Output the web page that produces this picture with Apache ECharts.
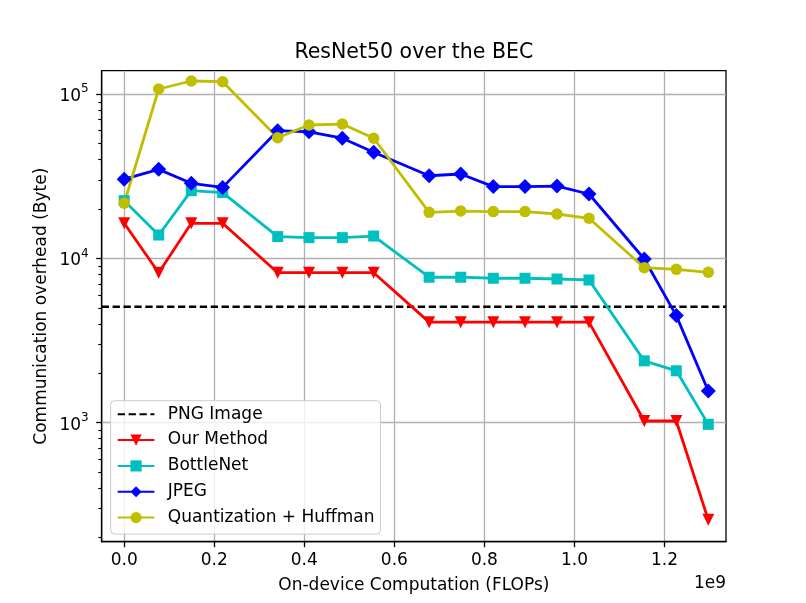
<!DOCTYPE html>
<html>
<head>
<meta charset="utf-8">
<script src="https://cdn.jsdelivr.net/npm/echarts@6.0.0/dist/echarts.min.js"></script>
<style>html,body{margin:0;padding:0;background:#fff}#c{width:806px;height:603px}</style>
</head>
<body>
<div id="c"></div>
<script>
// ---- data ----
var flops = [0.0, 0.0766e9, 0.149e9, 0.2186e9, 0.3409e9, 0.4104e9, 0.4844e9, 0.5541e9, 0.6772e9,
             0.7474e9, 0.8198e9, 0.8902e9, 0.9612e9, 1.0323e9, 1.1551e9, 1.2262e9, 1.2973e9];
var ourMethod = [16384, 8192, 16384, 16384, 8192, 8192, 8192, 8192, 4096, 4096, 4096, 4096, 4096, 4096, 1024, 1024, 256];
var bottleNet = [22500, 13900, 25900, 25200, 13600, 13400, 13400, 13700, 7690, 7690, 7580, 7580, 7500, 7400, 2380, 2070, 977];
var jpeg = [30400, 34900, 28700, 27100, 60000, 59100, 54000, 44400, 31900, 32700, 27400, 27400, 27600, 24700, 9930, 4490, 1560];
var quantHuffman = [21700, 107700, 120500, 119300, 54400, 65000, 65900, 54000, 19100, 19450, 19300, 19300, 18660, 17570, 8790, 8590, 8240];
var pngImage = 5090;
var xTicks = [0, 0.2e9, 0.4e9, 0.6e9, 0.8e9, 1.0e9, 1.2e9];
var yMajor = [1000, 10000, 100000];
var yMinor = [200, 300, 400, 500, 600, 700, 800, 900, 2000, 3000, 4000, 5000, 6000, 7000, 8000, 9000,
              20000, 30000, 40000, 50000, 60000, 70000, 80000, 90000];
var xMin = -0.05e9, xMax = 1.3366e9, yMin = 188.5, yMax = 139200;

function pairs(ys) { return flops.map(function (x, i) { return [x, ys[i]]; }); }

var FONT = 'DejaVu Sans';
var chart = echarts.init(document.getElementById('c'), null, { renderer: 'canvas' });
var triDown = 'path://M0,0 L2,0 L1,2 Z';

chart.setOption({
  animation: false,
  backgroundColor: '#fff',
  textStyle: { fontFamily: FONT },
  grid: { left: 101.7, right: 80, top: 70.7, bottom: 61.3, show: true, borderColor: '#000', borderWidth: 1.3, containLabel: false },
  xAxis: {
    type: 'value', min: xMin, max: xMax,
    axisLine: { show: true, onZero: false, lineStyle: { color: '#000', width: 1.3 } },
    axisTick: { show: true, length: 5.5, customValues: xTicks, lineStyle: { color: '#000', width: 1.3 } },
    axisLabel: { customValues: xTicks, margin: 10, fontSize: 17, color: '#000', fontFamily: FONT,
      formatter: function (v) { return (v / 1e9).toFixed(1); } },
    splitLine: { show: true, lineStyle: { color: '#b0b0b0', width: 1.3 } }
  },
  yAxis: [{
    type: 'log', logBase: 10, min: yMin, max: yMax,
    axisLine: { show: true, onZero: false, lineStyle: { color: '#000', width: 1.3 } },
    axisTick: { show: true, length: 5.5, customValues: yMajor, lineStyle: { color: '#000', width: 1.3 } },
    axisLabel: { customValues: yMajor, margin: 13, color: '#000', fontFamily: FONT,
      formatter: function (v) { return '{b|10}{s|' + Math.round(Math.log10(v)) + '}'; },
      rich: { b: { fontSize: 17, fontFamily: FONT, color: '#000', lineHeight: 22, verticalAlign: 'bottom' },
              s: { fontSize: 12, fontFamily: FONT, color: '#000', lineHeight: 22, verticalAlign: 'top' } } },
    splitLine: { show: true, lineStyle: { color: '#b0b0b0', width: 1.3 } }
  }, {
    type: 'log', logBase: 10, min: yMin, max: yMax, position: 'left',
    axisLine: { show: false, onZero: false },
    axisTick: { show: true, length: 3.4, customValues: yMinor, lineStyle: { color: '#000', width: 1.1 } },
    axisLabel: { show: false },
    splitLine: { show: false }
  }],
  legend: {
    orient: 'vertical', left: 110.7, top: 400.7,
    padding: [5, 6, 8, 6], itemGap: 8.85, itemWidth: 36.7, itemHeight: 14,
    backgroundColor: 'rgba(255,255,255,0.8)', borderColor: '#cccccc', borderWidth: 1, borderRadius: 4,
    textStyle: { fontSize: 17, fontFamily: FONT, color: '#000', padding: [0, 0, 0, 8.4], lineHeight: 17 },
    data: [{ name: 'PNG Image', itemStyle: { opacity: 0 } }, 'Our Method', 'BottleNet', 'JPEG', 'Quantization + Huffman']
  },
  graphic: [
    { type: 'text', style: { text: 'ResNet50 over the BEC', x: 413.85, y: 53, fontSize: 20.5, fontFamily: FONT, fill: '#000', align: 'center', verticalAlign: 'middle' }, silent: true },
    { type: 'text', style: { text: 'On-device Computation (FLOPs)', x: 413.85, y: 586, fontSize: 17, fontFamily: FONT, fill: '#000', align: 'center', verticalAlign: 'middle' }, silent: true },
    { type: 'text', style: { text: '1e9', x: 726, y: 584, fontSize: 17, fontFamily: FONT, fill: '#000', align: 'right', verticalAlign: 'middle' }, silent: true },
    { type: 'text', x: 42, y: 306.2, rotation: Math.PI / 2, style: { text: 'Communication overhead (Byte)', x: 0, y: 0, fontSize: 17, fontFamily: FONT, fill: '#000', align: 'center', verticalAlign: 'middle' }, silent: true }
  ],
  series: [
    { name: 'PNG Image', type: 'line', data: [[xMin, pngImage], [xMax, pngImage]], symbol: 'none',
      lineStyle: { color: '#000', width: 2.5, type: [7.3, 3.6] }, itemStyle: { color: '#000' }, silent: true },
    { name: 'Our Method', type: 'line', data: pairs(ourMethod), symbol: triDown, symbolSize: 12, showAllSymbol: true,
      lineStyle: { color: '#ff0000', width: 2.8 }, itemStyle: { color: '#ff0000' }, silent: true },
    { name: 'BottleNet', type: 'line', data: pairs(bottleNet), symbol: 'rect', symbolSize: 11, showAllSymbol: true,
      lineStyle: { color: '#00bfbf', width: 2.8 }, itemStyle: { color: '#00bfbf' }, silent: true },
    { name: 'JPEG', type: 'line', data: pairs(jpeg), symbol: 'diamond', symbolSize: 15, showAllSymbol: true,
      lineStyle: { color: '#0000ff', width: 2.8 }, itemStyle: { color: '#0000ff' }, silent: true },
    { name: 'Quantization + Huffman', type: 'line', data: pairs(quantHuffman), symbol: 'circle', symbolSize: 11.5, showAllSymbol: true,
      lineStyle: { color: '#bfbf00', width: 2.8 }, itemStyle: { color: '#bfbf00' }, silent: true }
  ]
});
</script>
</body>
</html>
